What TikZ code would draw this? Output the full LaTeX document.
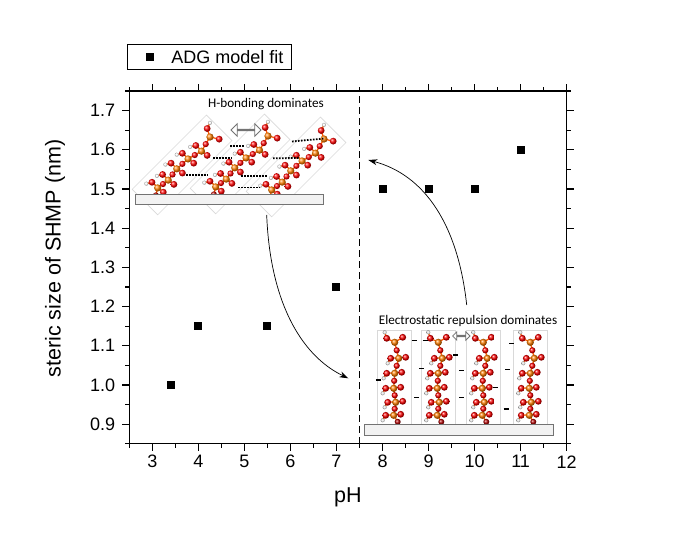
\documentclass[tikz,border=0pt]{standalone}
\usepackage{fontspec}
\setmainfont{Liberation Sans}
\newfontfamily\calibri{Carlito}
\usetikzlibrary{positioning, shapes.arrows, arrows.meta}
\tikzstyle{frameline} = [line width=1.2bp, black]
\tikzstyle{datamark} = [rectangle, fill=black, minimum size=8bp, inner sep=0pt]
\tikzstyle{ticklabel} = [font=\fontsize{18bp}{20bp}\selectfont, inner sep=1bp]
\tikzstyle{axislabel} = [font=\fontsize{21.5bp}{24bp}\selectfont]
\tikzstyle{insettitle} = [font=\calibri\fontsize{13.2bp}{15bp}\selectfont, inner sep=0pt]
\tikzstyle{substrate} = [fill=black!5, draw=black!55, line width=1bp]
\tikzstyle{molbox} = [draw=black!15, line width=0.6bp]
\tikzstyle{bond} = [line width=1.3bp, draw=orange!70!red]
\tikzstyle{hbond} = [line width=1.8bp, dash pattern=on 1.6bp off 1.4bp]
\tikzstyle{chargeline} = [line width=1.2bp]
\tikzstyle{swaparrow} = [double arrow, draw=black!55, fill=white, line width=0.8bp, inner sep=0pt]
\tikzstyle{arrow} = [line width=0.7bp, -{Stealth[length=9bp,width=6bp]}]

% one SHMP chain, base at (0,0), growing upwards
\newcommand{\shmpchain}{%
  \draw[bond] (3,-2.5) -- (-1,-9) -- (1,-22) -- (-1,-36) -- (0,-51) -- (4,-66) -- (0,-82);
  \draw[bond] (-10,-92) -- (-8,-86) -- (0,-82) -- (8,-87);
  \foreach \dx/\py in {-1/-9, 1/-22, -1/-36, 0/-51, 4/-66}{
    \draw[bond] (\dx-11,\py+5) -- (\dx-8,\py) -- (\dx+7,\py-1);
  }
  \shade[ball color=white] (-10,-92) circle (2);
  \shade[ball color=red] (-8,-86) circle (3.4);
  \shade[ball color=red] (8,-87) circle (3.4);
  \shade[ball color=red!70!black] (3,-2.5) circle (3);
  \foreach \ox/\oy in {0/-15.5, 0/-29, -0.5/-43.5, 2/-58.5, 2/-74}
    \shade[ball color=red] (\ox,\oy) circle (3.1);
  \foreach \dx/\py in {-1/-9, 1/-22, -1/-36, 0/-51, 4/-66}{
    \shade[ball color=white] (\dx-11,\py+5) circle (2);
    \shade[ball color=red] (\dx-8,\py) circle (3.4);
    \shade[ball color=red] (\dx+7,\py-1) circle (3.4);
    \shade[ball color=orange] (\dx,\py) circle (3.6);
  }
  \shade[ball color=orange] (0,-82) circle (3.6);
}

\begin{document}
\begin{tikzpicture}[x=1bp, y=-1bp]
\useasboundingbox[fill=white] (0,0) rectangle (699,537);

%legend
\draw[line width=1bp] (127.3,45) rectangle (291.7,70);
\node (legmark) [datamark] at (150,57.5) {};
\node (legtext) [ticklabel, right=16bp of legmark] {ADG model fit};

%axes and data
\begin{scope}[shift={(14.18,777)}, x=46.04bp, y=392bp]
  \draw[frameline] (2.5,0.85) rectangle (12,1.75);
  \foreach \t in {3,...,12}{
    \draw[frameline] (\t,0.85) -- ++(0,-7bp);
    \draw[frameline] (\t,1.75) -- ++(0,7bp);
    \node[ticklabel] at ([yshift=-18bp]\t,0.85) {\t};
  }
  \foreach \t in {2.5,3.5,...,11.5}{
    \draw[frameline] (\t,0.85) -- ++(0,-4bp);
    \draw[frameline] (\t,1.75) -- ++(0,4bp);
  }
  \foreach \v/\lab in {0.9/0.9, 1.0/1.0, 1.1/1.1, 1.2/1.2, 1.3/1.3, 1.4/1.4, 1.5/1.5, 1.6/1.6, 1.7/1.7}{
    \draw[frameline] (2.5,\v) -- ++(-7bp,0);
    \draw[frameline] (12,\v) -- ++(7bp,0);
    \node[ticklabel, anchor=east] at ([xshift=-13bp]2.5,\v) {\lab};
  }
  \foreach \v in {0.85,0.95,1.05,1.15,1.25,1.35,1.45,1.55,1.65,1.75}{
    \draw[frameline] (2.5,\v) -- ++(-4bp,0);
    \draw[frameline] (12,\v) -- ++(4bp,0);
  }
  \draw[frameline, dash pattern=on 7bp off 4bp] (7.5,0.85) -- (7.5,1.75);
  \foreach \x/\v [count=\i] in {3.4/1.0, 4/1.15, 5.5/1.15, 7/1.25, 8/1.5, 9/1.5, 10/1.5, 11/1.6}
    \node (pt\i) [datamark] at (\x,\v) {};
\end{scope}

\node (ylab) [axislabel, rotate=90] at (55,258.5) {steric size of SHMP (nm)};
\node (xlab) [axislabel] at (347.8,497) {pH};

%H-bonding inset
\node (hbtitle) [insettitle] at (266,104) {H-bonding dominates};
\foreach \bx/\by in {152/195, 210/194, 266/197}{
  \begin{scope}[shift={(\bx,\by)}, rotate=-45]
    \draw[molbox] (-18,10) rectangle (18,-95);
    \shmpchain
  \end{scope}
}
\draw[substrate] (135.7,195) rectangle (323.3,204.3);
\foreach \xa/\ya/\xb/\yb in {230/146/245/146, 213/157.7/232/157.7, 186/175/208/175, 292/141.5/324/138.5, 273/158.3/299/158, 241/176/268/176, 238/187.5/260/187.5}
  \draw[hbond] (\xa,\ya) -- (\xb,\yb);
\node (hbswap) [swaparrow, minimum height=30bp, minimum width=12.5bp, double arrow head extend=3.5bp] at (246,130) {};

%electrostatic inset
\node (estitle) [insettitle] at (468,320.7) {Electrostatic repulsion dominates};
\foreach \bx in {394.7, 438.3, 483.3, 530.3}{
  \begin{scope}[shift={(\bx,424.3)}]
    \draw[molbox] (-17,0) rectangle (17,-93.6);
    \shmpchain
  \end{scope}
}
\draw[substrate] (364.3,424.3) rectangle (553.3,435);
\foreach \cx/\cy in {414.2/340.7, 425/340.7, 455.8/355, 421.7/368.3, 378.3/380, 416.7/397.3, 461.7/370.7, 461.7/397.3, 495.7/387.7, 511.7/343.3, 507.7/369.3, 506/409}
  \draw[chargeline] (\cx-2.5,\cy) -- (\cx+2.5,\cy);
\node (esswap) [swaparrow, minimum height=17.3bp, minimum width=8.3bp, double arrow head extend=2.2bp] at (461.3,336) {};

%connecting arrows
\coordinate (hbtail) at (266.7,215);
\coordinate (eshead) at (348.3,378.3);
\coordinate (estail) at (466.7,305);
\coordinate (hbhead) at (368.3,160);
\draw[arrow] (hbtail) .. controls (270,300) and (300,355) .. (eshead);
\draw[arrow] (estail) .. controls (458,225) and (425,175) .. (hbhead);
\end{tikzpicture}
\end{document}
